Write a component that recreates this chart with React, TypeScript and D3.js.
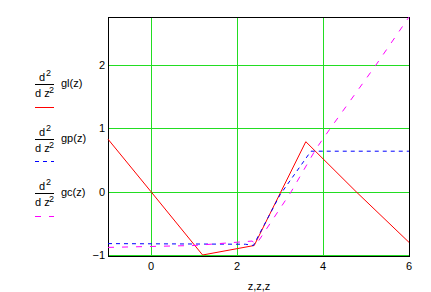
import React from "react";
import * as d3 from "d3";

const xTicks = [0, 2, 4, 6];
const yTicks = [-1, 0, 1, 2];
const glX = [-1, 0, 1.2, 2.4, 3.6, 4.77, 6];
const glY = [0.83, 0, -1, -0.85, 0.79, 0, -0.8];
const gpX = [-1, 2.2, 2.38, 3.0, 3.72, 6];
const gpY = [-0.82, -0.83, -0.85, -0.05, 0.64, 0.64];
const gcX = [-1, 1, 2.35, 2.45, 3.26, 3.84, 4.17, 5.23, 6];
const gcY = [-0.88, -0.85, -0.78, -0.83, 0, 0.68, 1, 2, 2.76];
const legendNames = ["gl(z)", "gp(z)", "gc(z)"];
const colors = ["#ff0000", "#0000ff", "#ff00ff"];
const dashes = ["none", "4,4", "6,8"];

export default function App() {
  const W = 431, H = 292;
  const left = 108, right = 409, top = 17, bottom = 256;
  const x = d3.scaleLinear().domain([-1, 6]).range([left, right]);
  const y = d3.scaleLinear().domain([-1, 2.76]).range([bottom - 1, top]);
  const line = d3.line<[number, number]>().x((d) => x(d[0])).y((d) => y(d[1]));
  const series = [
    glX.map((v, i) => [v, glY[i]] as [number, number]),
    gpX.map((v, i) => [v, gpY[i]] as [number, number]),
    gcX.map((v, i) => [v, gcY[i]] as [number, number]),
  ];
  const font = "'Liberation Sans', Arial, sans-serif";
  const legendY = [84, 139, 193];
  const legendLineY = [107.5, 161.5, 216.5];
  return (
    <svg width={W} height={H} style={{ position: "absolute", left: 0, top: 0, background: "#fff" }} fontFamily={font}>
      <rect x={0} y={0} width={W} height={H} fill="#fff" />
      {yTicks.map((t) => (
        <line key={"gy" + t} x1={left} x2={right} y1={Math.round(y(t)) + 0.5} y2={Math.round(y(t)) + 0.5} stroke="#22dd22" strokeWidth={1} shapeRendering="crispEdges" />
      ))}
      {xTicks.filter((t) => t < 6).map((t) => (
        <line key={"gx" + t} y1={top} y2={bottom} x1={Math.round(x(t)) + 0.5} x2={Math.round(x(t)) + 0.5} stroke="#22dd22" strokeWidth={1} shapeRendering="crispEdges" />
      ))}
      <rect x={left + 0.5} y={top + 0.5} width={right - left} height={bottom - top} fill="none" stroke="#000" strokeWidth={1} shapeRendering="crispEdges" />
      {series.map((s, i) => (
        <path key={i} d={line(s) || ""} fill="none" stroke={colors[i]} strokeWidth={1} strokeDasharray={dashes[i]} />
      ))}
      {yTicks.map((t) => (
        <text key={"ty" + t} x={105} y={y(t) + 4} fontSize={11} textAnchor="end">{t < 0 ? "\u22121" : t}</text>
      ))}
      {xTicks.map((t) => (
        <text key={"tx" + t} x={x(t)} y={270} fontSize={11} textAnchor="middle">{t}</text>
      ))}
      <text x={259} y={290} fontSize={11} textAnchor="middle">z,z,z</text>
      {legendNames.map((n, i) => (
        <g key={n}>
          <text x={39} y={legendY[i] - 3} fontSize={11}>d</text>
          <text x={46} y={legendY[i] - 8} fontSize={9}>2</text>
          <line x1={35} x2={54} y1={legendY[i] + 0.5} y2={legendY[i] + 0.5} stroke="#000" shapeRendering="crispEdges" />
          <text x={35} y={legendY[i] + 13} fontSize={11}>d z</text>
          <text x={49} y={legendY[i] + 9} fontSize={9}>2</text>
          <text x={61} y={legendY[i] + 3} fontSize={11}>{n}</text>
          <line x1={35} x2={54} y1={legendLineY[i]} y2={legendLineY[i]} stroke={colors[i]} strokeWidth={1.2} strokeDasharray={dashes[i]} shapeRendering="crispEdges" />
        </g>
      ))}
    </svg>
  );
}
